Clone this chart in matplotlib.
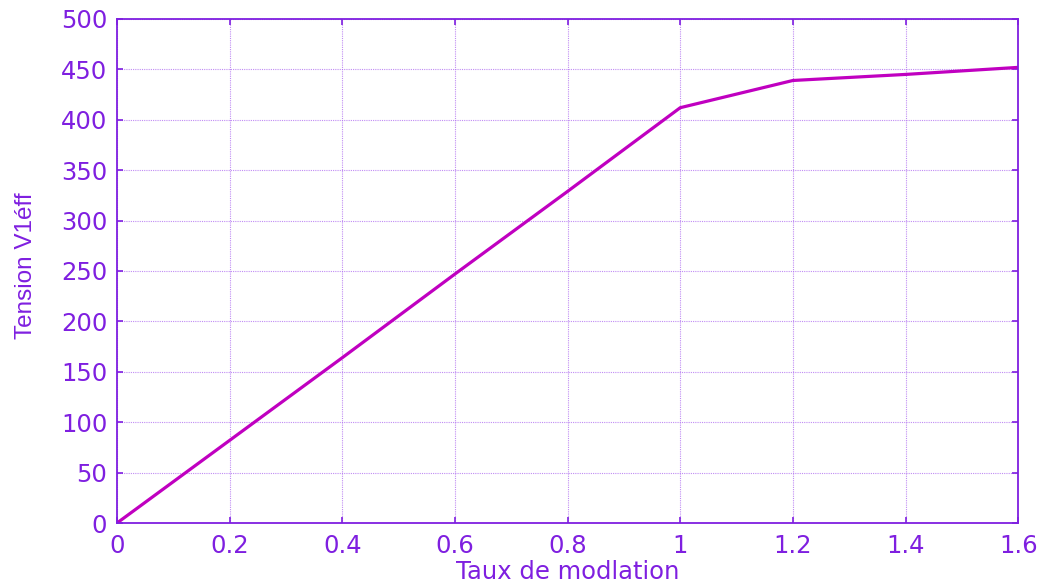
import matplotlib
matplotlib.use('Agg')
import matplotlib.pyplot as plt

taux = [0, 0.2, 0.4, 0.6, 0.8, 1.0, 1.2, 1.4, 1.6]
tension = [0, 82, 164, 247, 329, 412, 439, 445, 452]
xticks = [0, 0.2, 0.4, 0.6, 0.8, 1, 1.2, 1.4, 1.6]
xticklabels = ['0', '0.2', '0.4', '0.6', '0.8', '1', '1.2', '1.4', '1.6']
yticks = list(range(0, 501, 50))

txt_color = '#7F1FE0'
line_color = '#C000C0'
grid_color = '#B070F0'

plt.rcParams['font.family'] = ['DejaVu Sans']

fig = plt.figure(figsize=(10.43, 5.86), dpi=100)
ax = fig.add_axes([0.1122, 0.1075, 0.864, 0.8601])

ax.plot(taux, tension, color=line_color, linewidth=2.3, solid_capstyle='butt')

ax.set_xlim(0, 1.6)
ax.set_ylim(0, 500)
ax.set_xticks(xticks)
ax.set_xticklabels(xticklabels)
ax.set_yticks(yticks)

ax.grid(True, color=grid_color, linestyle=(0, (1, 1)), linewidth=0.8, alpha=0.8)
for s in ax.spines.values():
    s.set_color(txt_color)
    s.set_linewidth(1.3)

ax.tick_params(direction='in', length=4, width=1.2, color=txt_color,
               labelcolor=txt_color, labelsize=17.5, top=True, right=True)
ax.tick_params(axis='y', pad=7)
ax.tick_params(axis='x', pad=8)

ax.set_xlabel('Taux de modlation', color=txt_color, fontsize=17.5)
ax.xaxis.set_label_coords(0.5, -0.073)
ax.set_ylabel('Tension V1éff', color=txt_color, fontsize=17.5,
              family=['Liberation Sans', 'DejaVu Sans'])
ax.yaxis.set_label_coords(-0.089, 0.51)

fig.savefig('out.png', dpi=100)
